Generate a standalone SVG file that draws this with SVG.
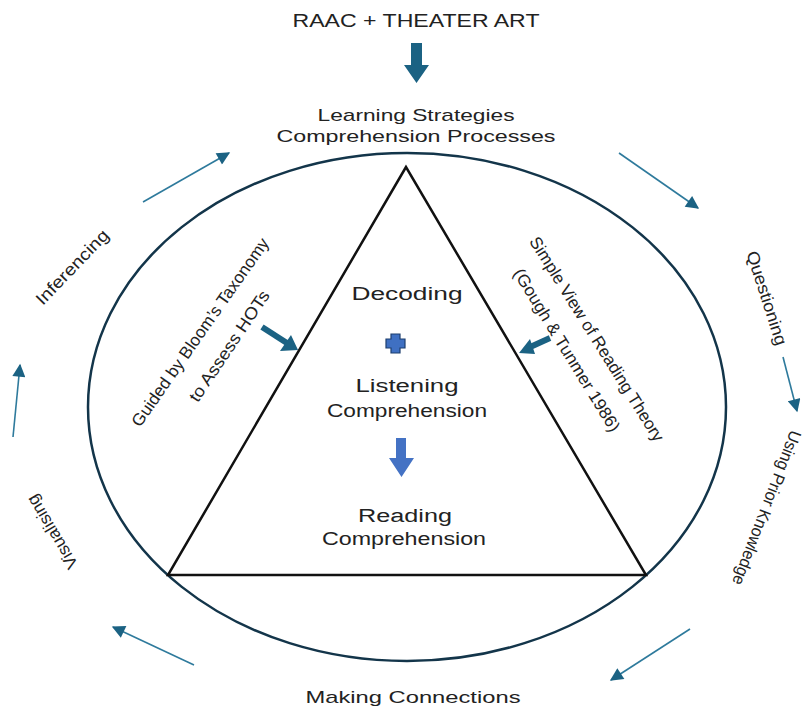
<svg xmlns="http://www.w3.org/2000/svg" width="811" height="707" viewBox="0 0 811 707">
  <style>
    text { font-family: "Liberation Sans", Arial, sans-serif; fill: #222222; }
    .h { font-size: 17px; text-anchor: middle; }
    .big { font-size: 18px; text-anchor: middle; }
    .rot { font-size: 17px; text-anchor: middle; }
    .cyc { stroke: #2e7a9c; stroke-width: 1.6; fill: none; }
    .block { fill: #1b6283; }
  </style>
  <defs>
    <marker id="head" viewBox="0 0 10 10" refX="9" refY="5" markerWidth="9" markerHeight="8" markerUnits="userSpaceOnUse" orient="auto">
      <path d="M0,0 L10,5 L0,10 Z" fill="#1b6283"/>
    </marker>
    <marker id="headCyc" viewBox="0 0 10 10" refX="9" refY="5" markerWidth="14" markerHeight="13" markerUnits="userSpaceOnUse" orient="auto">
      <path d="M0,0 L10,5 L0,10 Z" fill="#1b6283"/>
    </marker>
  </defs>

  <rect width="811" height="707" fill="#ffffff"/>

  <!-- outer cycle and central triangle -->
  <ellipse id="cycle" cx="407" cy="407" rx="319" ry="254" fill="none" stroke="#13354a" stroke-width="2.5"/>
  <polygon id="triangle" points="406,167 168,575 646,575" fill="none" stroke="#111111" stroke-width="2.5" stroke-linejoin="miter"/>

  <g id="title">
    <text class="big" x="416" y="27" textLength="247" lengthAdjust="spacingAndGlyphs">RAAC + THEATER ART</text>
  </g>

  <g id="strategies">
    <text class="h" x="416" y="121" textLength="197" lengthAdjust="spacingAndGlyphs">Learning Strategies</text>
    <text class="h" x="416" y="142" textLength="279" lengthAdjust="spacingAndGlyphs">Comprehension Processes</text>
  </g>

  <g id="decoding">
    <text class="big" x="407" y="300" textLength="111" lengthAdjust="spacingAndGlyphs">Decoding</text>
  </g>

  <g id="plus">
    <path d="M391,334 h9 v5 h5 v9 h-5 v5 h-9 v-5 h-5 v-9 h5 Z" fill="#3f70c2" stroke="#1d3e6e" stroke-width="1.2"/>
  </g>

  <g id="listening">
    <text class="big" x="407" y="392" textLength="103" lengthAdjust="spacingAndGlyphs">Listening</text>
    <text class="big" x="407" y="417" textLength="160" lengthAdjust="spacingAndGlyphs">Comprehension</text>
  </g>

  <g id="reading">
    <text class="big" x="405" y="522" textLength="94" lengthAdjust="spacingAndGlyphs">Reading</text>
    <text class="big" x="404" y="545" textLength="164" lengthAdjust="spacingAndGlyphs">Comprehension</text>
  </g>

  <g id="blooms">
    <text class="rot" transform="translate(200,332) rotate(-55)" x="0" y="6" textLength="226" lengthAdjust="spacingAndGlyphs">Guided by Bloom’s Taxonomy</text>
    <text class="rot" transform="translate(229,346) rotate(-56)" x="0" y="6" textLength="130" lengthAdjust="spacingAndGlyphs">to Assess HOTs</text>
  </g>

  <g id="simple-view">
    <text class="rot" transform="translate(597,339) rotate(58)" x="0" y="6" textLength="238" lengthAdjust="spacingAndGlyphs">Simple View of Reading Theory</text>
    <text class="rot" transform="translate(567,350) rotate(58.5)" x="0" y="6" textLength="188" lengthAdjust="spacingAndGlyphs">(Gough &amp; Tunmer 1986)</text>
  </g>

  <g id="inferencing">
    <text class="rot" transform="translate(72,267) rotate(-46)" x="0" y="6" textLength="97" lengthAdjust="spacingAndGlyphs">Inferencing</text>
  </g>

  <g id="questioning">
    <text class="rot" transform="translate(767,298) rotate(72)" x="0" y="6" textLength="98" lengthAdjust="spacingAndGlyphs">Questioning</text>
  </g>

  <g id="prior-knowledge">
    <text class="rot" transform="translate(767,508) rotate(111)" x="0" y="6" textLength="164" lengthAdjust="spacingAndGlyphs">Using Prior Knowledge</text>
  </g>

  <g id="visualising">
    <text class="rot" transform="translate(52,532) rotate(-121)" x="0" y="6" textLength="83" lengthAdjust="spacingAndGlyphs">Visualising</text>
  </g>

  <g id="making-connections">
    <text class="h" x="413" y="703" textLength="215" lengthAdjust="spacingAndGlyphs">Making Connections</text>
  </g>

  <g id="connectors">
    <!-- block arrows -->
    <path class="block" d="M411,43 h11 v22 h7 l-12.5,18 l-12.5,-18 h7 Z"/>
    <path d="M396,438 h10 v20 h8 l-12.5,19 l-12.5,-19 h7 Z" fill="#4472c4"/>
    <line x1="262" y1="327" x2="290" y2="345" stroke="#1b6283" stroke-width="6"/>
    <path class="block" d="M298,350 L280,351 L291,335 Z"/>
    <line x1="550" y1="338" x2="528" y2="348" stroke="#1b6283" stroke-width="6"/>
    <path class="block" d="M519,353 L530,339 L535,354 Z"/>

    <!-- cycle arrows -->
    <line class="cyc" x1="143" y1="202" x2="229" y2="153" marker-end="url(#headCyc)"/>
    <line class="cyc" x1="619" y1="153" x2="698" y2="208" marker-end="url(#headCyc)"/>
    <line class="cyc" x1="783" y1="357" x2="797" y2="411" marker-end="url(#headCyc)"/>
    <line class="cyc" x1="690" y1="629" x2="611" y2="680" marker-end="url(#headCyc)"/>
    <line class="cyc" x1="194" y1="665" x2="113" y2="627" marker-end="url(#headCyc)"/>
    <line class="cyc" x1="13" y1="437" x2="20" y2="365" marker-end="url(#headCyc)"/>
  </g>
</svg>
